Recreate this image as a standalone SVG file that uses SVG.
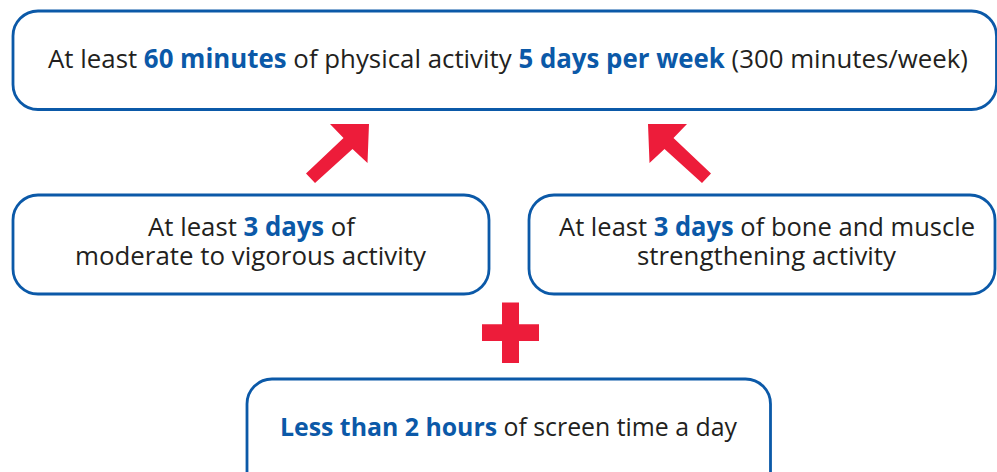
<svg xmlns="http://www.w3.org/2000/svg" width="997" height="472" viewBox="0 0 997 472">
  <style>
    .box { fill: #ffffff; stroke: #0b59a8; stroke-width: 2.8; }
    .txt { font-family: "Open Sans", "Liberation Sans", sans-serif; font-size: 26px; fill: #231f20; }
    .hl { font-weight: 700; fill: #0b59a8; }
    .red { fill: #ed1c3a; }
  </style>
  <rect width="997" height="472" fill="#ffffff"/>

  <g id="goal">
    <rect class="box" x="13" y="11" width="983.5" height="98.5" rx="25"/>
    <text class="txt" x="48" y="68" textLength="920" lengthAdjust="spacingAndGlyphs">At least <tspan class="hl">60 minutes</tspan> of physical activity <tspan class="hl">5 days per week</tspan> (300 minutes/week)</text>
  </g>

  <g id="aerobic">
    <rect class="box" x="13" y="195" width="476" height="99" rx="25"/>
    <text class="txt" x="148" y="235.5" textLength="207" lengthAdjust="spacingAndGlyphs">At least <tspan class="hl">3 days</tspan> of</text>
    <text class="txt" x="75" y="265" textLength="351" lengthAdjust="spacingAndGlyphs">moderate to vigorous activity</text>
  </g>

  <g id="strength">
    <rect class="box" x="529" y="195" width="466" height="99" rx="25"/>
    <text class="txt" x="559" y="235.5" textLength="416" lengthAdjust="spacingAndGlyphs">At least <tspan class="hl">3 days</tspan> of bone and muscle</text>
    <text class="txt" x="637" y="265" textLength="259" lengthAdjust="spacingAndGlyphs">strengthening activity</text>
  </g>

  <g id="screen">
    <rect class="box" x="247" y="379" width="523.5" height="120" rx="25"/>
    <text class="txt" x="280" y="436" style="font-size:25.5px" textLength="457" lengthAdjust="spacingAndGlyphs"><tspan class="hl">Less than 2 hours</tspan> of screen time a day</text>
  </g>

  <g id="connectors">
    <polygon class="red" points="369,124 330,124 343.5,138 306,173.5 315,183 352.5,149 367.5,163"/>
    <polygon class="red" points="648,124 687,124 673.5,138 711,173.5 702,183 664.5,149 649.5,163"/>
    <path class="red" d="M502,302.5 H519 V324.3 H539 V341 H519 V363 H502 V341 H482 V324.3 H502 Z"/>
  </g>
</svg>
